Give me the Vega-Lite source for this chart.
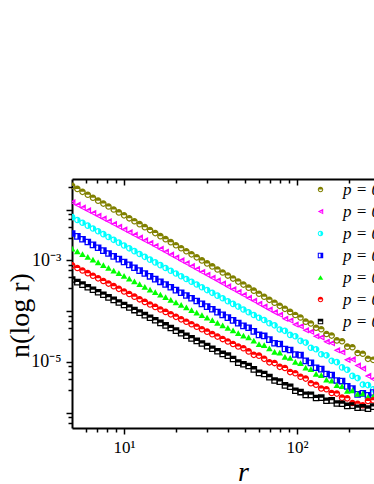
{
  "$schema": "https://vega.github.io/schema/vega-lite/v6.json",
  "width": 302,
  "height": 249,
  "autosize": {"type": "none"},
  "padding": {"left": 72, "top": 179, "right": 0, "bottom": 56},
  "background": "white",
  "config": {"view": {"stroke": null}, "font": "Liberation Serif"},
  "data": {"values": [
    {"r":5.01,"a":2.92e-2,"b":1.396e-2,"c":7.1e-3,"d":3.381e-3,"e":1.694e-3,"f":7.98e-4,"g":4.19e-4},
    {"r":5.37,"a":2.554e-2,"b":1.234e-2,"c":6.241e-3,"d":2.97e-3,"e":1.497e-3,"f":7.09e-4,"g":3.73e-4},
    {"r":5.75,"a":2.235e-2,"b":1.09e-2,"c":5.489e-3,"d":2.61e-3,"e":1.324e-3,"f":6.3e-4,"g":3.33e-4},
    {"r":6.17,"a":1.956e-2,"b":9.636e-3,"c":4.827e-3,"d":2.293e-3,"e":1.17e-3,"f":5.6e-4,"g":2.96e-4},
    {"r":6.61,"a":1.712e-2,"b":8.515e-3,"c":4.245e-3,"d":2.015e-3,"e":1.034e-3,"f":4.97e-4,"g":2.64e-4},
    {"r":7.08,"a":1.498e-2,"b":7.524e-3,"c":3.733e-3,"d":1.77e-3,"e":9.14e-4,"f":4.42e-4,"g":2.35e-4},
    {"r":7.59,"a":1.311e-2,"b":6.649e-3,"c":3.283e-3,"d":1.555e-3,"e":8.08e-4,"f":3.92e-4,"g":2.1e-4},
    {"r":8.13,"a":1.147e-2,"b":5.876e-3,"c":2.887e-3,"d":1.366e-3,"e":7.14e-4,"f":3.49e-4,"g":1.87e-4},
    {"r":8.71,"a":1.004e-2,"b":5.193e-3,"c":2.539e-3,"d":1.2e-3,"e":6.31e-4,"f":3.1e-4,"g":1.67e-4},
    {"r":9.33,"a":8.787e-3,"b":4.588e-3,"c":2.233e-3,"d":1.055e-3,"e":5.58e-4,"f":2.75e-4,"g":1.48e-4},
    {"r":10,"a":7.69e-3,"b":4.055e-3,"c":1.963e-3,"d":9.27e-4,"e":4.93e-4,"f":2.44e-4,"g":1.32e-4},
    {"r":10.72,"a":6.73e-3,"b":3.583e-3,"c":1.727e-3,"d":8.14e-4,"e":4.36e-4,"f":2.17e-4,"g":1.18e-4},
    {"r":11.48,"a":5.89e-3,"b":3.166e-3,"c":1.518e-3,"d":7.16e-4,"e":3.85e-4,"f":1.93e-4,"g":1.05e-4},
    {"r":12.3,"a":5.16e-3,"b":2.798e-3,"c":1.335e-3,"d":6.29e-4,"e":3.41e-4,"f":1.71e-4,"g":9.36e-5},
    {"r":13.18,"a":4.51e-3,"b":2.473e-3,"c":1.174e-3,"d":5.52e-4,"e":3.01e-4,"f":1.52e-4,"g":8.34e-5},
    {"r":14.13,"a":3.95e-3,"b":2.185e-3,"c":1.033e-3,"d":4.85e-4,"e":2.66e-4,"f":1.35e-4,"g":7.43e-5},
    {"r":15.14,"a":3.44e-3,"b":1.917e-3,"c":9.11e-4,"d":4.28e-4,"e":2.37e-4,"f":1.21e-4,"g":6.61e-5},
    {"r":16.22,"a":3.0e-3,"b":1.682e-3,"c":8.04e-4,"d":3.78e-4,"e":2.11e-4,"f":1.08e-4,"g":5.88e-5},
    {"r":17.38,"a":2.615e-3,"b":1.476e-3,"c":7.09e-4,"d":3.34e-4,"e":1.88e-4,"f":9.66e-5,"g":5.23e-5},
    {"r":18.62,"a":2.279e-3,"b":1.295e-3,"c":6.25e-4,"d":2.95e-4,"e":1.67e-4,"f":8.64e-5,"g":4.65e-5},
    {"r":19.95,"a":1.986e-3,"b":1.136e-3,"c":5.52e-4,"d":2.6e-4,"e":1.49e-4,"f":7.72e-5,"g":4.14e-5},
    {"r":21.38,"a":1.731e-3,"b":9.97e-4,"c":4.87e-4,"d":2.3e-4,"e":1.33e-4,"f":6.9e-5,"g":3.68e-5},
    {"r":22.91,"a":1.509e-3,"b":8.75e-4,"c":4.29e-4,"d":2.03e-4,"e":1.18e-4,"f":6.17e-5,"g":3.27e-5},
    {"r":24.55,"a":1.315e-3,"b":7.68e-4,"c":3.79e-4,"d":1.79e-4,"e":1.05e-4,"f":5.52e-5,"g":2.91e-5},
    {"r":26.3,"a":1.146e-3,"b":6.73e-4,"c":3.34e-4,"d":1.58e-4,"e":9.37e-5,"f":4.93e-5,"g":2.59e-5},
    {"r":28.18,"a":9.99e-4,"b":5.91e-4,"c":2.95e-4,"d":1.39e-4,"e":8.35e-5,"f":4.41e-5,"g":2.3e-5},
    {"r":30.2,"a":8.71e-4,"b":5.19e-4,"c":2.6e-4,"d":1.23e-4,"e":7.44e-5,"f":3.94e-5,"g":2.05e-5},
    {"r":32.36,"a":7.59e-4,"b":4.55e-4,"c":2.29e-4,"d":1.09e-4,"e":6.62e-5,"f":3.52e-5,"g":1.82e-5},
    {"r":34.67,"a":6.61e-4,"b":3.99e-4,"c":2.02e-4,"d":9.58e-5,"e":5.9e-5,"f":3.15e-5,"g":1.62e-5},
    {"r":37.15,"a":5.76e-4,"b":3.5e-4,"c":1.79e-4,"d":8.46e-5,"e":5.25e-5,"f":2.82e-5,"g":1.44e-5},
    {"r":39.81,"a":5.02e-4,"b":3.07e-4,"c":1.57e-4,"d":7.46e-5,"e":4.68e-5,"f":2.52e-5,"g":1.33e-5},
    {"r":42.66,"a":4.38e-4,"b":2.7e-4,"c":1.39e-4,"d":6.59e-5,"e":4.17e-5,"f":2.25e-5,"g":1.14e-5},
    {"r":45.71,"a":3.82e-4,"b":2.37e-4,"c":1.23e-4,"d":5.82e-5,"e":3.71e-5,"f":2.01e-5,"g":9.7e-6},
    {"r":48.98,"a":3.33e-4,"b":2.08e-4,"c":1.08e-4,"d":5.13e-5,"e":3.3e-5,"f":1.86e-5,"g":9.01e-6},
    {"r":52.48,"a":2.9e-4,"b":1.82e-4,"c":9.53e-5,"d":4.7e-5,"e":3.05e-5,"f":1.61e-5,"g":8.3e-6},
    {"r":56.23,"a":2.53e-4,"b":1.6e-4,"c":8.41e-5,"d":4.0e-5,"e":2.62e-5,"f":1.38e-5,"g":7.13e-6},
    {"r":60.26,"a":2.2e-4,"b":1.4e-4,"c":7.42e-5,"d":3.4e-5,"e":2.25e-5,"f":1.33e-5,"g":6.1e-6},
    {"r":64.57,"a":1.92e-4,"b":1.23e-4,"c":6.7e-5,"d":3.25e-5,"e":2.15e-5,"f":1.15e-5,"g":5.8e-6},
    {"r":69.18,"a":1.67e-4,"b":1.08e-4,"c":5.77e-5,"d":2.75e-5,"e":1.85e-5,"f":9.8e-6,"g":5.01e-6},
    {"r":74.13,"a":1.46e-4,"b":9.47e-5,"c":5.25e-5,"d":2.33e-5,"e":1.58e-5,"f":9.5e-6,"g":4.3e-6},
    {"r":79.43,"a":1.27e-4,"b":8.5e-5,"c":4.35e-5,"d":2.25e-5,"e":1.53e-5,"f":8.0e-6,"g":4.1e-6},
    {"r":85.11,"a":1.11e-4,"b":7.1e-5,"c":4.1e-5,"d":1.8e-5,"e":1.26e-5,"f":7.6e-6,"g":3.45e-6},
    {"r":91.2,"a":9.65e-5,"b":6.55e-5,"c":3.4e-5,"d":1.72e-5,"e":1.2e-5,"f":6.3e-6,"g":3.25e-6},
    {"r":97.72,"a":8.41e-5,"b":5.45e-5,"c":3.2e-5,"d":1.4e-5,"e":1.0e-5,"f":6.0e-6,"g":2.7e-6},
    {"r":104.7,"a":7.5e-5,"b":5.05e-5,"c":2.6e-5,"d":1.36e-5,"e":9.5e-6,"f":5.1e-6,"g":2.55e-6},
    {"r":112.2,"a":6.2e-5,"b":4.2e-5,"c":2.4e-5,"d":1.05e-5,"e":7.7e-6,"f":4.7e-6,"g":2.25e-6},
    {"r":120.2,"a":5.7e-5,"b":3.95e-5,"c":1.9e-5,"d":9.6e-6,"e":7.2e-6,"f":3.8e-6,"g":2.25e-6},
    {"r":128.8,"a":4.7e-5,"b":3.2e-5,"c":1.78e-5,"d":7.7e-6,"e":5.8e-6,"f":3.55e-6,"g":1.95e-6},
    {"r":138.0,"a":4.4e-5,"b":3.05e-5,"c":1.42e-5,"d":7.2e-6,"e":5.5e-6,"f":3.0e-6,"g":1.98e-6},
    {"r":147.9,"a":3.55e-5,"b":2.5e-5,"c":1.35e-5,"d":5.8e-6,"e":4.5e-6,"f":2.9e-6,"g":1.72e-6},
    {"r":158.5,"a":3.3e-5,"b":2.35e-5,"c":1.05e-5,"d":5.5e-6,"e":4.3e-6,"f":2.45e-6,"g":1.75e-6},
    {"r":169.8,"a":2.65e-5,"b":1.7e-5,"c":9.9e-6,"d":4.3e-6,"e":3.5e-6,"f":2.38e-6,"g":1.52e-6},
    {"r":182.0,"a":2.55e-5,"b":1.55e-5,"c":7.8e-6,"d":4.2e-6,"e":3.35e-6,"f":1.98e-6,"g":1.5e-6},
    {"r":195.0,"a":2.0e-5,"b":1.1e-5,"c":7.0e-6,"d":3.3e-6,"e":2.7e-6,"f":1.92e-6,"g":1.36e-6},
    {"r":208.9,"a":1.95e-5,"b":1.12e-5,"c":5.3e-6,"d":3.0e-6,"e":2.75e-6,"f":1.55e-6,"g":1.38e-6},
    {"r":223.9,"a":1.5e-5,"b":8.5e-6,"c":4.8e-6,"d":2.3e-6,"e":2.35e-6,"f":1.5e-6,"g":1.25e-6},
    {"r":239.9,"a":1.45e-5,"b":7.4e-6,"c":3.6e-6,"d":2.4e-6,"e":2.4e-6,"f":1.4e-6,"g":1.27e-6},
    {"r":257.0,"a":1.15e-5,"b":5.3e-6,"c":3.5e-6,"d":2.2e-6,"e":2.05e-6,"f":1.7e-6,"g":1.2e-6},
    {"r":275.4,"a":1.1e-5,"b":4.6e-6,"c":2.9e-6,"d":2.5e-6,"e":2.1e-6,"f":1.75e-6,"g":1.32e-6}
  ]},
  "resolve": {"axis": {"x": "independent"}},
  "layer": [
    {
      "transform": [{"fold": ["a", "b", "c", "d", "e", "f", "g"], "as": ["s", "n"]}],
      "mark": {"type": "point", "filled": true, "opacity": 1, "strokeWidth": 0, "size": 44, "clip": true},
      "encoding": {
        "x": {
          "field": "r", "type": "quantitative",
          "scale": {"type": "log", "domain": [5, 278.4], "nice": false},
          "axis": {
            "orient": "bottom",
            "values": [6, 7, 8, 9, 10, 20, 30, 40, 50, 60, 70, 80, 90, 100, 200],
            "labelExpr": "datum.value == 10 ? '10¹' : (datum.value == 100 ? '10²' : '')",
            "grid": false,
            "domainColor": "black", "domainWidth": 2,
            "tickColor": "black", "tickWidth": 1.5,
            "tickSize": {"condition": {"test": "abs(log(datum.value)/LN10 - round(log(datum.value)/LN10)) < 0.01", "value": 6}, "value": 4},
            "labelFont": "Liberation Serif", "labelFontSize": 17, "labelColor": "black",
            "labelPadding": 5, "labelOverlap": false, "labelFlush": false,
            "title": "r", "titleFont": "Liberation Serif", "titleFontSize": 28, "titleFontStyle": "italic",
            "titleFontWeight": "normal", "titleColor": "black",
            "titleX": 171, "titleY": 52, "titleAlign": "center", "titleBaseline": "alphabetic"
          }
        },
        "y": {
          "field": "n", "type": "quantitative",
          "scale": {"type": "log", "domain": [5e-7, 0.04], "nice": false},
          "axis": {
            "orient": "left",
            "values": [0.028, 0.01, 0.0082, 0.0064, 0.0046, 0.0028, 0.001, 0.00082, 0.00064, 0.00046, 0.00028, 0.0001, 8.2e-5, 6.4e-5, 4.6e-5, 2.8e-5, 1e-5, 8.2e-6, 6.4e-6, 4.6e-6, 2.8e-6, 1e-6, 8.2e-7, 6.4e-7],
            "labelExpr": "abs(datum.value - 0.001) < 1e-9 ? '10⁻³' : (abs(datum.value - 0.00001) < 1e-11 ? '10⁻⁵' : '')",
            "grid": false,
            "domainColor": "black", "domainWidth": 2,
            "tickColor": "black", "tickWidth": 1.5,
            "tickSize": {"condition": {"test": "abs(log(datum.value)/LN10 - round(log(datum.value)/LN10)) < 0.01", "value": 6}, "value": 4},
            "labelFont": "Liberation Serif", "labelFontSize": 18, "labelColor": "black",
            "labelPadding": 5, "labelOverlap": false, "labelFlush": false,
            "title": "n(log r)", "titleFont": "Liberation Serif", "titleFontSize": 28,
            "titleFontWeight": "normal", "titleColor": "black",
            "titleX": -52, "titleY": 136, "titleAngle": -90, "titleAlign": "center", "titleBaseline": "middle"
          }
        },
        "color": {
          "field": "s", "type": "nominal",
          "scale": {"domain": ["a", "b", "c", "d", "e", "f", "g"], "range": ["#808000", "#ff00ff", "#00ffff", "#0000ff", "#00ff00", "#ff0000", "#000000"]},
          "legend": {"orient": "none", "legendX": 240, "legendY": 2, "title": null, "symbolSize": 30, "symbolStrokeWidth": 0,
            "labelFont": "Liberation Serif", "labelFontSize": 17, "labelFontStyle": "italic", "labelColor": "black",
            "rowPadding": 4, "labelOffset": 14, "padding": 0,
            "labelExpr": "'p = 0.' + (indexof(['a','b','c','d','e','f','g'], datum.value) + 1)"}
        },
        "shape": {
          "field": "s", "type": "nominal",
          "scale": {"domain": ["a", "b", "c", "d", "e", "f", "g"], "range": [
            "M0,-1A1,1,0,1,1,0,1A1,1,0,1,1,0,-1Z M0,-0.62A0.62,0.62,0,1,0,0,0.62A0.62,0.62,0,1,0,0,-0.62Z M-0.62,0A0.62,0.62,0,0,1,0.62,0Z",
            "M-1,0L1,-1L1,1Z M-0.267,0L0.633,0.45L0.633,-0.45Z M-0.267,0L0.633,-0.45L0.633,0Z",
            "M0,-1A1,1,0,1,1,0,1A1,1,0,1,1,0,-1Z M0,-0.62A0.62,0.62,0,1,0,0,0.62A0.62,0.62,0,1,0,0,-0.62Z M0,-0.62A0.62,0.62,0,0,1,0,0.62Z",
            "M-1,-1H1V1H-1Z M-0.62,-0.62V0.62H0.62V-0.62Z M0,-0.62H0.62V0.62H0Z",
            "triangle-up",
            "M0,-1A1,1,0,1,1,0,1A1,1,0,1,1,0,-1Z M0,-0.62A0.62,0.62,0,1,0,0,0.62A0.62,0.62,0,1,0,0,-0.62Z M-0.62,0A0.62,0.62,0,0,1,0.62,0Z",
            "M-1,-1H1V1H-1Z M-0.62,-0.62V0.62H0.62V-0.62Z M-0.62,-0.62H0.62V0H-0.62Z"
          ]},
          "legend": {"orient": "none", "legendX": 240, "legendY": 2, "title": null, "symbolSize": 30, "symbolStrokeWidth": 0,
            "labelFont": "Liberation Serif", "labelFontSize": 17, "labelFontStyle": "italic", "labelColor": "black",
            "rowPadding": 4, "labelOffset": 14, "padding": 0,
            "labelExpr": "'p = 0.' + (indexof(['a','b','c','d','e','f','g'], datum.value) + 1)"}
        }
      }
    },
    {
      "mark": {"type": "tick", "opacity": 0},
      "encoding": {
        "x": {
          "field": "r", "type": "quantitative",
          "axis": {
            "orient": "top",
            "values": [6, 7, 8, 9, 10, 20, 30, 40, 50, 60, 70, 80, 90, 100, 200],
            "labels": false, "title": null, "grid": false,
            "domainColor": "black", "domainWidth": 2,
            "tickColor": "black", "tickWidth": 1.5,
            "tickSize": {"condition": {"test": "abs(log(datum.value)/LN10 - round(log(datum.value)/LN10)) < 0.01", "value": -6}, "value": -4}
          }
        }
      }
    }
  ]
}
